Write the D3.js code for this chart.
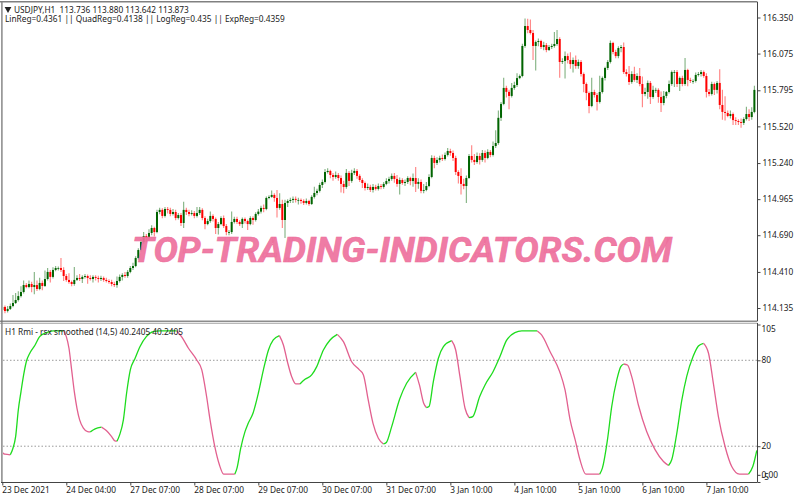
<!DOCTYPE html>
<html lang="en">
<head>
    <meta charset="UTF-8">
    <title>USDJPY H1</title>
    <script src="https://d3js.org/d3.v7.min.js"></script>
    <style>
        html, body {
            margin: 0;
            padding: 0;
            background: #fff;
        }

        svg {
            display: block;
        }

        text {
            font-family: "Noto Sans", sans-serif;
            font-size: 8.3px;
            fill: #222;
        }

        .axis path, .axis line {
            stroke: #444;
        }
    </style>
</head>
<body>
    <svg width="800" height="500"></svg>

    <script>
        // candles, one line per 24 hourly bars
        let openPrices = [
            114.120,114.143,114.112,114.128,114.150,114.173,114.196,114.226,114.257,114.310,114.295,114.318,114.295,114.310,114.280,114.326,114.303,114.356,114.410,114.372,114.425,114.440,114.440,114.425,
            114.379,114.349,114.333,114.318,114.349,114.364,114.356,114.372,114.379,114.364,114.356,114.372,114.364,114.356,114.364,114.349,114.341,114.333,114.318,114.310,114.341,114.372,114.387,114.379,
            114.410,114.440,114.455,114.516,114.577,114.638,114.684,114.669,114.707,114.745,114.714,114.867,114.883,114.837,114.890,114.883,114.852,114.867,114.821,114.844,114.783,114.883,114.867,114.852,
            114.859,114.837,114.859,114.883,114.821,114.775,114.798,114.837,114.814,114.745,114.775,114.821,114.760,114.714,114.714,114.791,114.814,114.791,114.775,114.814,114.798,114.775,114.821,114.806,
            114.852,114.870,114.898,114.890,114.974,114.982,114.997,114.974,114.898,114.928,114.806,114.936,114.951,114.959,114.967,114.959,114.959,114.951,114.936,114.951,114.928,114.982,115.012,115.028,
            115.073,115.096,115.172,115.180,115.149,115.134,115.149,115.126,115.081,115.058,115.165,115.104,115.165,115.180,115.142,115.111,115.088,115.050,115.058,115.035,115.058,115.043,115.065,115.058,
            115.081,115.103,115.119,115.142,115.119,115.081,115.111,115.088,115.096,115.126,115.103,115.126,115.081,115.096,115.028,115.035,115.065,115.134,115.279,115.241,115.264,115.279,115.271,115.302,
            115.332,115.317,115.279,115.172,115.142,115.081,115.065,115.126,115.294,115.264,115.248,115.294,115.264,115.317,115.279,115.325,115.302,115.370,115.393,115.585,115.691,115.813,115.783,115.752,
            115.813,115.835,115.888,115.904,116.133,116.285,116.255,116.232,116.133,116.163,116.171,116.125,116.140,116.102,116.125,116.133,116.148,116.186,116.011,116.018,116.056,116.026,115.995,116.026,
            115.980,116.011,115.919,115.843,115.774,115.675,115.782,115.759,115.706,115.782,115.889,115.965,116.011,116.156,116.087,116.056,116.117,116.125,115.934,115.919,115.858,115.919,115.874,115.904,
            115.843,115.767,115.782,115.851,115.744,115.798,115.798,115.744,115.698,115.752,115.782,115.843,115.934,115.934,115.843,115.889,115.843,115.950,115.874,115.866,115.866,115.912,115.919,115.934,
            115.904,115.782,115.767,115.843,115.798,115.851,115.683,115.630,115.622,115.599,115.614,115.568,115.561,115.553,115.546,115.576,115.614,115.591,115.630
        ];
        let highPrices = [
            114.165,114.155,114.150,114.170,114.235,114.250,114.262,114.300,114.345,114.325,114.345,114.335,114.410,114.345,114.365,114.345,114.420,114.440,114.425,114.445,114.455,114.452,114.516,114.445,
            114.395,114.400,114.345,114.447,114.385,114.395,114.385,114.395,114.390,114.385,114.385,114.385,114.380,114.380,114.375,114.365,114.355,114.350,114.335,114.375,114.390,114.400,114.410,114.425,
            114.455,114.480,114.530,114.590,114.660,114.715,114.700,114.735,114.765,114.755,114.885,114.900,114.895,114.905,114.905,114.900,114.890,114.885,114.860,114.860,114.945,114.900,114.885,114.880,
            114.875,114.905,114.905,114.895,114.835,114.815,114.870,114.850,114.825,114.790,114.835,114.840,114.775,114.730,114.870,114.830,114.830,114.805,114.825,114.825,114.810,114.835,114.835,114.865,
            114.890,114.915,114.925,114.985,114.995,115.030,115.010,115.035,115.010,114.960,114.960,114.965,114.975,114.985,114.985,114.975,114.970,114.965,114.970,114.960,114.995,115.060,115.045,115.090,
            115.115,115.195,115.200,115.190,115.165,115.175,115.165,115.145,115.105,115.195,115.180,115.190,115.200,115.195,115.155,115.125,115.100,115.085,115.075,115.080,115.075,115.085,115.080,115.095,
            115.125,115.135,115.160,115.165,115.150,115.130,115.125,115.115,115.140,115.135,115.160,115.210,115.125,115.115,115.080,115.095,115.155,115.300,115.295,115.285,115.295,115.305,115.320,115.355,
            115.350,115.335,115.295,115.185,115.200,115.120,115.145,115.310,115.375,115.310,115.320,115.315,115.340,115.335,115.345,115.340,115.405,115.490,115.640,115.705,115.890,115.830,115.800,115.850,
            115.860,115.925,115.915,116.150,116.343,116.340,116.335,116.255,116.175,116.190,116.180,116.165,116.155,116.140,116.150,116.240,116.255,116.200,116.040,116.090,116.075,116.085,116.045,116.060,
            116.030,116.025,115.930,115.855,115.785,115.890,115.800,115.775,115.905,115.900,115.975,116.025,116.175,116.165,116.105,116.130,116.140,116.160,115.955,115.980,115.940,115.975,115.925,115.965,
            115.900,115.815,115.870,115.865,115.830,115.815,115.810,115.785,115.790,115.790,115.870,115.945,115.950,115.950,115.900,115.905,116.041,115.960,115.890,115.880,115.930,115.935,115.950,115.945,
            115.925,115.805,115.860,115.855,115.865,115.955,115.800,115.750,115.640,115.640,115.625,115.590,115.575,115.580,115.590,115.670,115.650,115.665,115.830
        ];
        let lowPrices = [
            114.105,114.095,114.100,114.120,114.140,114.165,114.185,114.215,114.245,114.285,114.285,114.255,114.240,114.265,114.270,114.270,114.295,114.345,114.330,114.360,114.415,114.420,114.410,114.340,
            114.335,114.320,114.300,114.305,114.340,114.340,114.325,114.360,114.320,114.345,114.330,114.345,114.330,114.340,114.335,114.330,114.320,114.300,114.295,114.290,114.330,114.345,114.365,114.365,
            114.400,114.425,114.445,114.505,114.565,114.625,114.640,114.655,114.690,114.680,114.705,114.850,114.820,114.825,114.855,114.835,114.840,114.805,114.810,114.760,114.745,114.845,114.835,114.840,
            114.820,114.825,114.845,114.805,114.735,114.765,114.785,114.795,114.700,114.695,114.765,114.745,114.690,114.690,114.700,114.780,114.775,114.760,114.745,114.780,114.730,114.765,114.770,114.795,
            114.840,114.855,114.865,114.880,114.965,114.975,114.945,114.825,114.885,114.745,114.669,114.905,114.935,114.935,114.940,114.925,114.930,114.920,114.925,114.915,114.920,114.970,114.995,115.015,
            115.050,115.085,115.160,115.125,115.105,115.120,115.105,115.015,115.010,115.045,115.065,115.090,115.150,115.120,115.095,115.050,115.030,115.035,115.020,115.015,115.030,115.030,115.040,115.045,
            115.070,115.085,115.105,115.090,115.060,115.000,115.075,115.065,115.080,115.070,115.060,115.020,115.045,115.010,115.010,115.025,115.055,115.125,115.200,115.225,115.245,115.255,115.260,115.290,
            115.295,115.255,115.150,115.085,115.000,115.040,114.935,115.120,115.245,115.225,115.235,115.230,115.250,115.245,115.270,115.285,115.290,115.355,115.380,115.560,115.680,115.740,115.650,115.740,
            115.800,115.820,115.880,115.895,116.120,116.230,116.220,116.026,115.945,116.130,116.110,116.100,116.085,116.095,116.110,116.120,116.135,115.890,115.995,115.885,116.000,115.960,115.930,115.960,
            115.960,115.900,115.780,115.720,115.620,115.665,115.740,115.640,115.695,115.770,115.870,115.950,116.000,116.070,116.040,116.040,116.085,115.920,115.900,115.835,115.845,115.860,115.850,115.825,
            115.665,115.750,115.730,115.690,115.730,115.775,115.700,115.630,115.680,115.735,115.770,115.830,115.820,115.820,115.790,115.825,115.830,115.825,115.850,115.845,115.855,115.900,115.900,115.890,
            115.740,115.750,115.755,115.760,115.770,115.650,115.570,115.565,115.590,115.580,115.530,115.530,115.530,115.510,115.530,115.565,115.560,115.570,115.620
        ];
        let closePrices = [
            114.143,114.112,114.128,114.150,114.173,114.196,114.226,114.257,114.310,114.295,114.318,114.295,114.310,114.280,114.326,114.303,114.356,114.410,114.372,114.425,114.440,114.440,114.425,114.379,
            114.349,114.333,114.318,114.349,114.364,114.356,114.372,114.379,114.364,114.356,114.372,114.364,114.356,114.364,114.349,114.341,114.333,114.318,114.310,114.341,114.372,114.387,114.379,114.410,
            114.440,114.455,114.516,114.577,114.638,114.684,114.669,114.707,114.745,114.714,114.867,114.883,114.837,114.890,114.883,114.852,114.867,114.821,114.844,114.783,114.883,114.867,114.852,114.859,
            114.837,114.859,114.883,114.821,114.775,114.798,114.837,114.814,114.745,114.775,114.821,114.760,114.714,114.714,114.791,114.814,114.791,114.775,114.814,114.798,114.775,114.821,114.806,114.852,
            114.870,114.898,114.890,114.974,114.982,114.997,114.974,114.898,114.928,114.806,114.936,114.951,114.959,114.967,114.959,114.959,114.951,114.936,114.951,114.928,114.982,115.012,115.028,115.073,
            115.096,115.172,115.180,115.149,115.134,115.149,115.126,115.081,115.058,115.165,115.104,115.165,115.180,115.142,115.111,115.088,115.050,115.058,115.035,115.058,115.043,115.065,115.058,115.081,
            115.103,115.119,115.142,115.119,115.081,115.111,115.088,115.096,115.126,115.103,115.126,115.081,115.096,115.028,115.035,115.065,115.134,115.279,115.241,115.264,115.279,115.271,115.302,115.332,
            115.317,115.279,115.172,115.142,115.081,115.065,115.126,115.294,115.264,115.248,115.294,115.264,115.317,115.279,115.325,115.302,115.370,115.393,115.585,115.691,115.813,115.783,115.752,115.813,
            115.835,115.888,115.904,116.133,116.285,116.255,116.232,116.133,116.163,116.171,116.125,116.140,116.102,116.125,116.133,116.148,116.186,116.011,116.018,116.056,116.026,115.995,116.026,115.980,
            116.011,115.919,115.843,115.774,115.675,115.782,115.759,115.706,115.782,115.889,115.965,116.011,116.156,116.087,116.056,116.117,116.125,115.934,115.919,115.858,115.919,115.874,115.904,115.843,
            115.767,115.782,115.851,115.744,115.798,115.798,115.744,115.698,115.752,115.782,115.843,115.934,115.934,115.843,115.889,115.843,115.950,115.874,115.866,115.866,115.912,115.919,115.934,115.904,
            115.782,115.767,115.843,115.798,115.851,115.683,115.630,115.622,115.599,115.614,115.568,115.561,115.553,115.546,115.576,115.614,115.591,115.630,115.798
        ];

        // rsx line: bar number and value
        let rsxBars = [
            0,1,3,4,5,6,7,8,9,10.4,12.3,14,16.6,19,23,24,25,26,27,28,29,30.4,32,33,34.8,37.2,39,41,42.2,43,44,45.4,46.6,48,49.8,51.6,54,56.6,59,65.4,67.2,69.8,72.9,74.8,76.6,77.9,79.8,81.4,83,87.2,88,89.4,91,92.2,94,96,97.9,99.8,101.6,103.9,
            105.4,106.9,108.5,110,111.6,113.5,116,117.9,120.4,122.9,125.6,127.9,131,133.9,135.4,137.2,139,141,142.9,144,146,149,151.6,155,156.4,158,159,160,161.6,163.5,165.4,168.5,170,171.6,173.5,175,176.4,179,181,184,
            186.6,189,192.2,194.8,200.6,202.2,205.4,209,211,212.9,214.8,216.6,218.8,224,225,226.9,228.5,230.4,231.9,233,234.4,236,238.5,241.6,244.8,247.9,249.8,251,252.9,254.8,256.6,259,261,262.9,264.8,266.6,268.5,271,273.5,276.4,279.8,281.4,282.9
        ];
        let rsxValues = [
            15.6,14.4,14,18.6,26.7,45.3,58,69.8,79,85.3,90.7,96.5,99.3,100.5,100.5,96.5,88.4,73.3,58.1,46.5,38.4,32.6,30.2,30,32.1,33.3,30.9,26.7,23.7,23.5,27.9,38.4,57,73.3,81.4,89.5,96.5,100,100.5,100.5,96.5,88.4,80.2,73.3,54.7,38.4,18.6,7,0.5,0.5,4.7,18.6,30.2,36,43,57,73.3,87.2,94.2,97.2,
            90.7,79,68.6,63.5,63.5,66.7,69.8,75.6,87.2,94.2,98.1,93,79,73.3,69.8,52.3,36,25.6,21.6,22.6,33.7,53,64,71.6,62.8,50,47,47.7,65,81.4,89.5,93.7,87.2,68.6,46.5,40,40.7,54.7,62.8,72,
            82.6,93.7,99.3,100.5,100.5,97.7,86,72,59.3,38.4,24.4,10.5,0.5,0.5,4.7,24.4,47.7,66.3,75.6,77.4,76.7,68.6,48.8,30.2,17.4,9.3,6.5,10.5,29,52.3,68.6,82.6,90,91.9,84.9,64,40.7,19.8,5.8,0.5,0.5,5.8,17
        ];

        let priceTicks = [116.350, 116.075, 115.795, 115.520, 115.240, 114.965, 114.690, 114.410, 114.135];
        let rsxTicks = [105, 80, 20, 0, -5];
        let rsxLevels = [80, 20];
        let timeBars = [0, 24, 48, 72, 96, 120, 144, 168, 192, 216, 240, 264];
        let timeLabels = ['23 Dec 2021', '24 Dec 04:00', '27 Dec 07:00', '28 Dec 07:00', '29 Dec 07:00', '30 Dec 07:00',
            '31 Dec 07:00', '3 Jan 10:00', '4 Jan 10:00', '5 Jan 10:00', '6 Jan 10:00', '7 Jan 10:00'];

        let svg = d3.select('svg');

        let x = d3.scaleLinear().domain([0, 282]).range([2.3, 754.4]);
        let yPrice = d3.scaleLinear().domain([114.135, 116.350]).range([308, 17.5]);
        let yRsx = d3.scaleLinear().domain([-5, 105]).range([482, 324.5]);

        svg.append('defs').append('clipPath').attr('id', 'plot')
            .append('rect').attr('x', 3).attr('y', 3).attr('width', 754.5).attr('height', 479);

        // panel frames
        svg.append('rect').attr('x', 0).attr('y', 1).attr('width', 757.5).attr('height', 1.5).attr('fill', '#808080');
        svg.append('rect').attr('x', 1.2).attr('y', 1).attr('width', 1.4).attr('height', 482).attr('fill', '#808080');
        svg.append('rect').attr('x', 0).attr('y', 320.6).attr('width', 757.5).attr('height', 1.2).attr('fill', '#707070');
        svg.append('rect').attr('x', 0).attr('y', 322.8).attr('width', 757.5).attr('height', 0.8).attr('fill', '#8a8a8a');

        // candles
        let candles = svg.append('g').attr('clip-path', 'url(#plot)');
        closePrices.forEach((close, i) => {
            let up = close >= openPrices[i];
            let color = up ? '#006400' : '#ff0000';
            candles.append('line')
                .attr('x1', x(i)).attr('x2', x(i))
                .attr('y1', yPrice(highPrices[i])).attr('y2', yPrice(lowPrices[i]))
                .attr('stroke', color).attr('stroke-opacity', 0.5).attr('stroke-width', 1.1);
            let top = yPrice(Math.max(close, openPrices[i]));
            let bottom = yPrice(Math.min(close, openPrices[i]));
            candles.append('rect')
                .attr('x', x(i) - 1).attr('width', 2)
                .attr('y', top).attr('height', Math.max(bottom - top, 0.8))
                .attr('fill', color);
        });

        // watermark
        svg.append('text')
            .attr('x', 132).attr('y', 262)
            .attr('textLength', 540).attr('lengthAdjust', 'spacingAndGlyphs')
            .style('font-family', 'Roboto, sans-serif')
            .style('font-size', '35px').style('font-weight', 'bold').style('font-style', 'italic')
            .style('fill', '#ee6f9c').style('fill-opacity', 0.92)
            .style('stroke', '#ee6f9c').style('stroke-width', 0.6)
            .text('TOP-TRADING-INDICATORS.COM');

        // rsx levels and line, one path per rising or falling run
        svg.selectAll('.level').data(rsxLevels).enter().append('line')
            .attr('class', 'level')
            .attr('x1', 3).attr('x2', 757)
            .attr('y1', d => yRsx(d)).attr('y2', d => yRsx(d))
            .attr('stroke', '#999').attr('stroke-dasharray', '1.5 2');

        let rsxLine = d3.line().x(d => x(d[0])).y(d => yRsx(d[1])).curve(d3.curveMonotoneX);
        let runs = [];
        rsxBars.forEach((bar, i) => {
            if (i === 0) return;
            let rising = rsxValues[i] > rsxValues[i - 1];
            if (rsxValues[i] === rsxValues[i - 1]) rising = runs[runs.length - 1].rising;
            if (!runs.length || runs[runs.length - 1].rising !== rising) {
                runs.push({rising: rising, points: [[rsxBars[i - 1], rsxValues[i - 1]]]});
            }
            runs[runs.length - 1].points.push([bar, rsxValues[i]]);
        });
        svg.append('g').attr('clip-path', 'url(#plot)')
            .selectAll('path').data(runs).enter().append('path')
            .attr('d', d => rsxLine(d.points))
            .attr('fill', 'none')
            .attr('stroke', d => d.rising ? '#1edc1e' : '#e2608f')
            .attr('stroke-width', 1.3);

        // axes
        let priceAxis = d3.axisRight(yPrice).tickValues(priceTicks).tickFormat(d3.format('.3f')).tickSize(3).tickPadding(2);
        let priceG = svg.append('g').attr('class', 'axis').attr('transform', 'translate(757.5 0)').call(priceAxis);
        priceG.select('.domain').attr('d', 'M0,2V321');

        let rsxAxis = d3.axisRight(yRsx).tickValues(rsxTicks).tickSize(3).tickPadding(1)
            .tickFormat(d => d === 0 ? '0.00' : d);
        let rsxG = svg.append('g').attr('class', 'axis').attr('transform', 'translate(757.5 0)').call(rsxAxis);
        rsxG.select('.domain').attr('d', 'M0,323V482');
        // the outer labels are pulled inside the panel, as the terminal does it
        rsxG.selectAll('.tick').filter(d => d === 105).select('text').attr('dy', '0.9em');
        rsxG.selectAll('.tick').filter(d => d === -5).select('text').attr('dy', '-0.25em');

        let timeAxis = d3.axisBottom(x).tickValues(timeBars).tickSize(3).tickPadding(2)
            .tickFormat((d, i) => timeLabels[i]);
        let timeG = svg.append('g').attr('class', 'axis').attr('transform', 'translate(0 482.5)').call(timeAxis);
        timeG.select('.domain').attr('d', 'M1,0H757.5');
        timeG.selectAll('text').attr('text-anchor', 'start').attr('dx', '-0.6');

        // header texts
        svg.append('path').attr('d', d3.symbol(d3.symbolTriangle, 20)()).attr('fill', '#222')
            .attr('transform', 'translate(8 9) rotate(180)');
        svg.append('text').attr('x', 14).attr('y', 12.5).attr('xml:space', 'preserve')
            .text('USDJPY,H1  113.736 113.880 113.642 113.873');
        svg.append('text').attr('x', 5).attr('y', 22)
            .text('LinReg=0.4361 || QuadReg=0.4138 || LogReg=0.435 || ExpReg=0.4359');
        svg.append('text').attr('x', 5).attr('y', 334.5)
            .text('H1 Rmi - rsx smoothed (14,5) 40.2405 40.2405');
    </script>
</body>
</html>
